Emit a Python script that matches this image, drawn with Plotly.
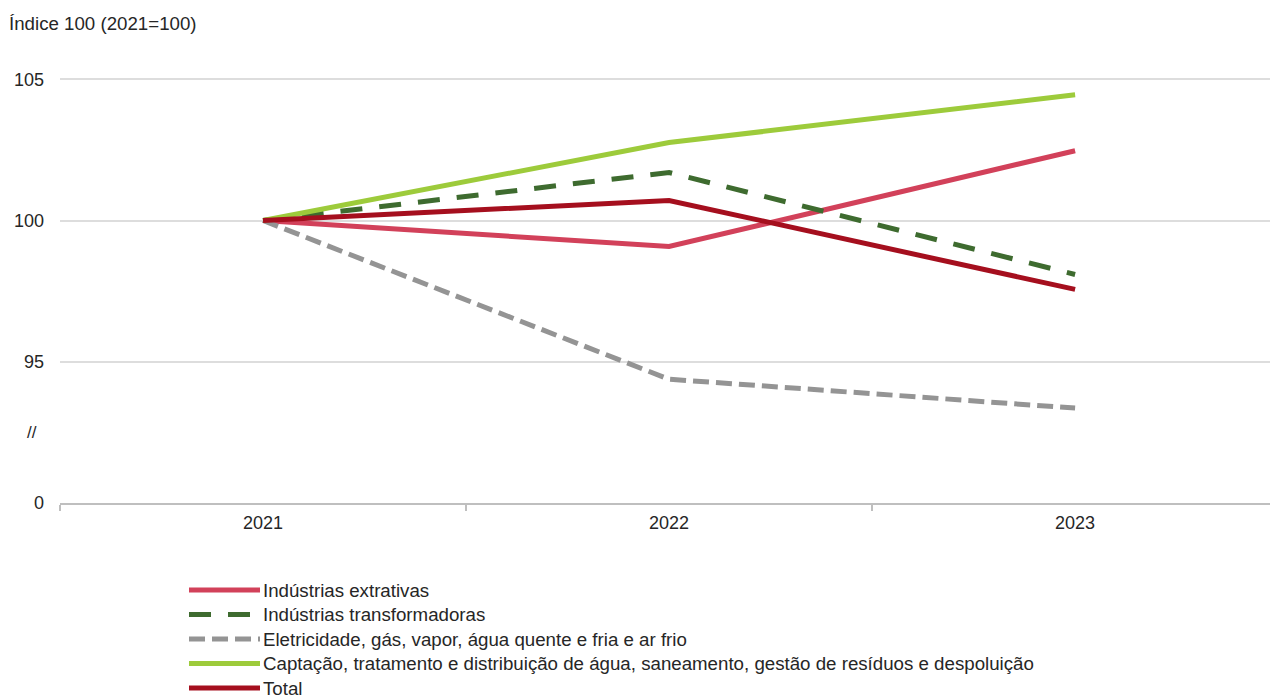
import plotly.graph_objects as go

# Index values (2021 = 100) by sector
years = ["2021", "2022", "2023"]
extrativas = [100, 99.08, 102.47]
transformadoras = [100, 101.70, 98.09]
eletricidade = [100, 94.38, 93.36]
captacao = [100, 102.76, 104.45]
total = [100, 100.71, 97.56]

names = [
    "Indústrias extrativas",
    "Indústrias transformadoras",
    "Eletricidade, gás, vapor, água quente e fria e ar frio",
    "Captação, tratamento e distribuição de água, saneamento, gestão de resíduos e despoluição",
    "Total",
]
series = [extrativas, transformadoras, eletricidade, captacao, total]
colors = ["#d2415a", "#3e6b2f", "#949494", "#9dcb3b", "#a50f1e"]
dashes = ["solid", "22px,17px", "16px,7px", "solid", "solid"]

# y axis is broken: the baseline value 90 is labelled as 0
tick_vals = [90, 95, 100, 105]
tick_text = ["0", "95", "100", "105"]

FONT = "Liberation Sans, Arial, sans-serif"
TEXT_COLOR = "#262626"
W, H = 1270, 699
L, R, T, B = 60, 0, 51, 196
plot_w = W - L - R
plot_h = H - T - B

fig = go.Figure()
for name, vals, col, dash in zip(names, series, colors, dashes):
    fig.add_trace(go.Scatter(
        x=years, y=vals, name=name, mode="lines",
        line=dict(color=col, width=5, dash=dash),
        showlegend=False,
    ))


def px_x(px):
    return (px - L) / plot_w


def px_y(py):
    return (H - B - py) / plot_h


shapes = []
annotations = []

# Legend drawn as line samples with labels below the plot
leg_x0, leg_x1 = 187, 262
leg_y = [590, 614.5, 639, 663.5, 688]
for name, col, dash, ly in zip(names, colors, dashes, leg_y):
    shapes.append(dict(
        type="line", xref="paper", yref="paper",
        x0=px_x(leg_x0 + 2), x1=px_x(leg_x1 - 2), y0=px_y(ly), y1=px_y(ly),
        line=dict(color=col, width=5, dash=dash),
    ))
    annotations.append(dict(
        xref="paper", yref="paper", x=px_x(leg_x1 - 1), y=px_y(ly),
        text=name, showarrow=False, xanchor="left", yanchor="middle",
        font=dict(family=FONT, size=18.7, color=TEXT_COLOR),
    ))

# Axis title and break marker
annotations.append(dict(
    xref="paper", yref="paper", x=px_x(7), y=px_y(24),
    text="Índice 100 (2021=100)", showarrow=False,
    xanchor="left", yanchor="middle",
    font=dict(family=FONT, size=18.7, color=TEXT_COLOR),
))
annotations.append(dict(
    xref="paper", yref="paper", x=px_x(32), y=px_y(432),
    text="//", showarrow=False, xanchor="center", yanchor="middle",
    font=dict(family=FONT, size=17, color=TEXT_COLOR),
))

fig.update_layout(
    width=W, height=H,
    margin=dict(l=L, r=R, t=T, b=B),
    paper_bgcolor="white", plot_bgcolor="white",
    font=dict(family=FONT, size=18, color=TEXT_COLOR),
    shapes=shapes, annotations=annotations,
    xaxis=dict(
        type="category", range=[-0.5, 2.48],
        tickson="boundaries", ticks="outside", ticklen=6,
        tickcolor="#bfbfbf", tickwidth=2,
        ticklabelstandoff=2,
        showgrid=False, showline=True, linecolor="#bfbfbf", linewidth=2,
        tickfont=dict(family=FONT, size=18, color=TEXT_COLOR),
        fixedrange=True,
    ),
    yaxis=dict(
        range=[90, 106], tickvals=tick_vals, ticktext=tick_text,
        showgrid=True, gridcolor="#dddddd", gridwidth=1.5,
        zeroline=False, showline=False, ticks="",
        ticklabelstandoff=15,
        tickfont=dict(family=FONT, size=18, color=TEXT_COLOR),
        fixedrange=True,
    ),
)

fig.write_html("out.html")
